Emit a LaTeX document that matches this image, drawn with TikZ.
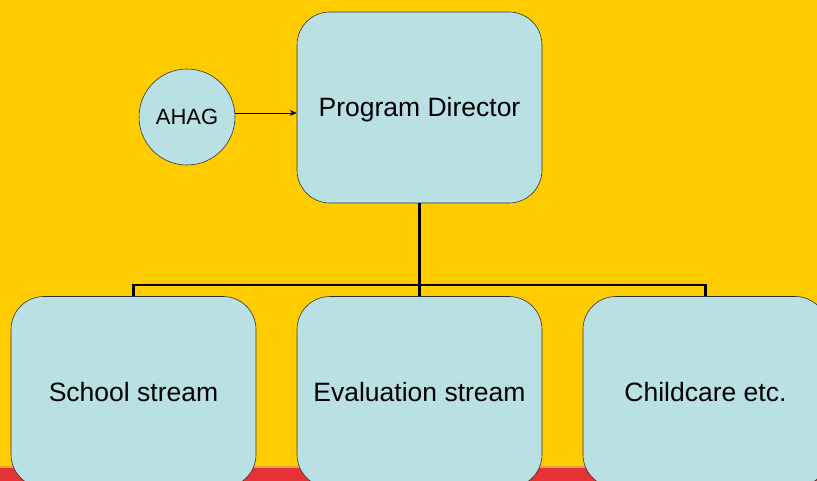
\documentclass[tikz,border=0pt]{standalone}
\usepackage{fontspec}
\setmainfont{Liberation Sans}
\usetikzlibrary{arrows.meta}
\definecolor{bgyellow}{RGB}{255,204,0}
\definecolor{boxblue}{RGB}{185,224,227}
\definecolor{bandred}{RGB}{229,50,52}
\definecolor{bandorange}{RGB}{238,160,70}
\tikzset{
  box/.style={draw=black!80, line width=0.6pt, fill=boxblue, rounded corners=33pt,
    minimum width=245pt, minimum height=191pt, inner sep=0pt,
    text height=19pt, text depth=0pt, font=\fontsize{26.5}{30}\selectfont},
  circ/.style={draw=black!80, line width=0.6pt, fill=boxblue, circle,
    minimum size=96pt, inner sep=0pt,
    text height=16pt, text depth=0pt, font=\fontsize{22}{26}\selectfont},
  conn/.style={line width=2.6pt},
  arr/.style={line width=0.7pt, -{Stealth[length=7pt,width=6pt]}}
}
\begin{document}
\begin{tikzpicture}[x=1pt,y=-1pt]
\useasboundingbox (0,0) rectangle (817,481);
\clip (0,0) rectangle (817,481);
\fill[bgyellow] (0,0) rectangle (817,481);
\fill[bandorange] (0,465.5) rectangle (817,469);
\fill[bandred] (0,468) rectangle (817,481);
\node[box] (pd) at (419.5,107.5) {Program Director};
\node[circ] (ahag) at (187,117) {AHAG};
\node[box] (s1) at (133.5,392) {School stream};
\node[box] (s2) at (419.5,392) {Evaluation stream};
\node[box] (s3) at (705.5,392) {Childcare etc.};
\coordinate (bar) at (419.5,285);
\draw[arr] (ahag.east |- 0,113) -- (pd.west |- 0,113);
\draw[conn] (pd.south) -- (bar);
\draw[conn] (s1.north) -- (s1.north |- bar) -- (s3.north |- bar) -- (s3.north);
\draw[conn] (bar) -- (s2.north);
\end{tikzpicture}
\end{document}
